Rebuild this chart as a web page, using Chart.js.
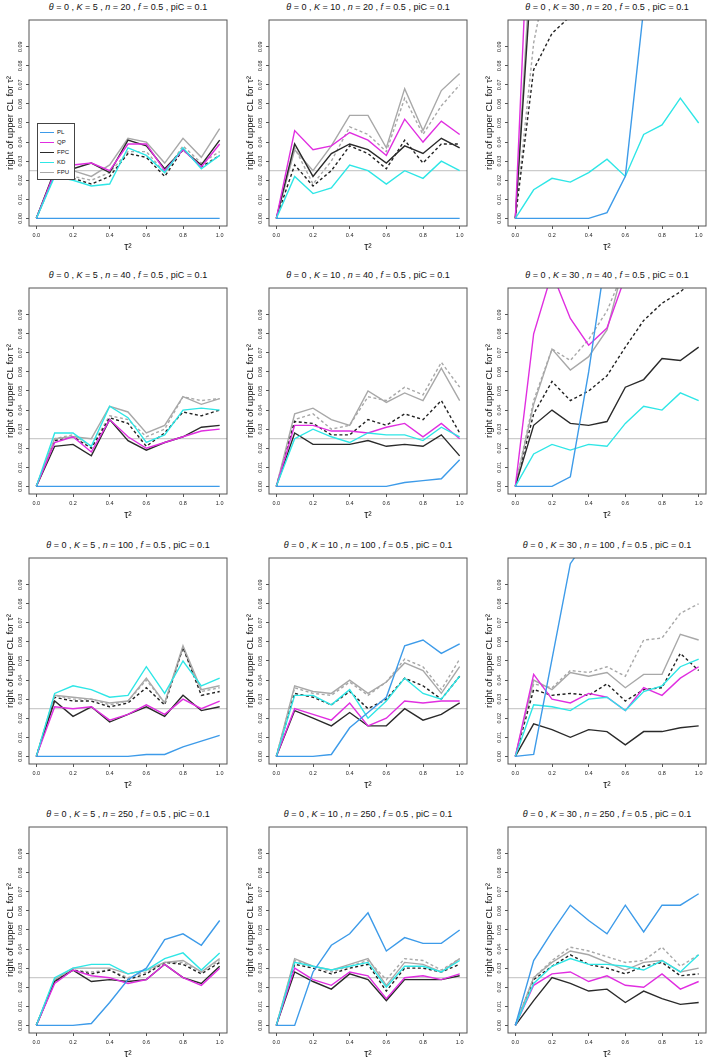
<!DOCTYPE html>
<html>
<head>
<meta charset="utf-8">
<script src="https://cdn.jsdelivr.net/npm/chart.js@4.4.1/dist/chart.umd.min.js"></script>
<style>
  body { margin: 0; background: #fff; width: 709px; height: 1060px; position: relative; overflow: hidden;
         font-family: "Liberation Sans", Arial, sans-serif; color: #111; }
  canvas { position: absolute; }
  .ttl { position: absolute; font-size: 9px; line-height: 12px; text-align: center; white-space: nowrap; }
  .legend { position: absolute; border: 1px solid #444; background: #fff; font-size: 6px; padding: 3px 0 0 2px; box-sizing: border-box; }
  .legend div { height: 10px; line-height: 10px; white-space: nowrap; }
  .legend span { display: inline-block; width: 14px; height: 0; border-top: 1.4px solid; vertical-align: middle; margin-right: 3px; }
</style>
</head>
<body>
<script>
// x values and axis ticks
const tau2 = [0, 0.1, 0.2, 0.3, 0.4, 0.5, 0.6, 0.7, 0.8, 0.9, 1.0];
const xTicks = [0, 0.2, 0.4, 0.6, 0.8, 1.0];
const yTicks = [0, 0.01, 0.02, 0.03, 0.04, 0.05, 0.06, 0.07, 0.08, 0.09];
const xMin = -0.04, xMax = 1.04, yMin = -0.004, yMax = 0.104;
const refLevel = 0.025;

const kValues = [5, 10, 30];
const nValues = [20, 40, 100, 250];
const legendNames = ['PL', 'QP', 'FPC', 'KD', 'FPU'];

// rows in each panel: PL, QP, FPC, KD, FPU, FPC dashed, FPU dashed
const k5_n20 = [
  [0, 0, 0, 0, 0, 0, 0, 0, 0, 0, 0],
  [0, .024, .028, .029, .025, .039, .039, .025, .036, .027, .039],
  [0, .025, .026, .029, .024, .041, .038, .026, .036, .028, .041],
  [0, .022, .020, .017, .018, .037, .033, .024, .037, .026, .033],
  [0, .024, .025, .022, .028, .042, .040, .029, .042, .032, .047],
  [0, .023, .021, .018, .022, .034, .032, .022, .036, .027, .033],
  [0, .024, .022, .020, .024, .035, .035, .024, .038, .029, .035]
];
const k10_n20 = [
  [0, 0, 0, 0, 0, 0, 0, 0, 0, 0, 0],
  [0, .046, .036, .038, .045, .041, .033, .052, .040, .051, .044],
  [0, .039, .022, .034, .039, .036, .029, .038, .034, .042, .037],
  [0, .022, .013, .016, .028, .025, .018, .025, .021, .030, .025],
  [0, .036, .025, .038, .054, .054, .037, .068, .046, .067, .076],
  [0, .028, .017, .025, .038, .034, .026, .041, .029, .039, .039],
  [0, .037, .018, .030, .048, .044, .035, .063, .044, .059, .070]
];
const k30_n20 = [
  [0, 0, 0, 0, 0, .003, .022, .11, .2, .25, .3],
  [0, .22, .28, .30, .31, .30, .32, .30, .31, .33, .32],
  [0, .145, .2, .22, .23, .24, .25, .26, .27, .28, .29],
  [0, .015, .021, .019, .024, .031, .022, .044, .049, .063, .050],
  [0, .16, .22, .24, .25, .26, .27, .28, .29, .30, .31],
  [0, .078, .097, .106, .12, .13, .14, .15, .16, .17, .18],
  [0, .092, .14, .16, .17, .18, .19, .20, .21, .22, .23]
];
const k5_n40 = [
  [0, 0, 0, 0, 0, 0, 0, 0, 0, 0, 0],
  [0, .023, .026, .018, .035, .026, .020, .023, .026, .029, .030],
  [0, .021, .022, .016, .035, .024, .019, .023, .026, .031, .032],
  [0, .028, .028, .021, .042, .036, .023, .027, .040, .041, .040],
  [0, .025, .026, .025, .042, .039, .028, .032, .047, .043, .046],
  [0, .024, .026, .020, .036, .033, .021, .028, .039, .037, .040],
  [0, .025, .027, .021, .037, .035, .026, .030, .047, .045, .046]
];
const k10_n40 = [
  [0, 0, 0, 0, 0, 0, 0, .002, .003, .004, .014],
  [0, .032, .032, .029, .029, .028, .031, .033, .026, .033, .025],
  [0, .028, .022, .022, .022, .024, .021, .022, .021, .027, .016],
  [0, .025, .030, .026, .023, .028, .027, .027, .024, .031, .026],
  [0, .038, .041, .035, .032, .050, .044, .049, .045, .062, .045],
  [0, .034, .033, .027, .027, .035, .032, .038, .035, .045, .028],
  [0, .035, .038, .030, .032, .047, .045, .052, .048, .065, .052]
];
const k30_n40 = [
  [0, 0, 0, .005, .06, .125, .2, .25, .3, .3, .3],
  [0, .080, .112, .088, .074, .083, .11, .13, .14, .15, .16],
  [0, .032, .040, .033, .032, .034, .052, .056, .067, .066, .073],
  [0, .017, .022, .019, .022, .021, .033, .042, .040, .049, .045],
  [0, .043, .072, .061, .068, .082, .119, .14, .15, .16, .17],
  [0, .038, .055, .045, .050, .058, .073, .087, .096, .102, .11],
  [0, .045, .072, .066, .077, .092, .115, .13, .14, .15, .16]
];
const k5_n100 = [
  [0, 0, 0, 0, 0, 0, .001, .001, .005, .008, .011],
  [0, .026, .025, .026, .019, .022, .027, .022, .030, .025, .029],
  [0, .029, .021, .026, .018, .022, .026, .021, .032, .024, .026],
  [0, .033, .037, .035, .031, .032, .047, .033, .050, .037, .041],
  [0, .032, .031, .030, .028, .029, .041, .028, .058, .035, .037],
  [0, .031, .029, .029, .026, .028, .036, .027, .057, .032, .034],
  [0, .032, .030, .030, .027, .029, .040, .028, .057, .034, .036]
];
const k10_n100 = [
  [0, 0, 0, .001, .015, .023, .031, .058, .061, .054, .059],
  [0, .025, .022, .019, .028, .016, .020, .029, .028, .029, .029],
  [0, .024, .020, .016, .023, .016, .016, .025, .019, .022, .028],
  [0, .032, .032, .027, .035, .020, .029, .041, .033, .030, .042],
  [0, .037, .034, .033, .040, .033, .039, .049, .045, .033, .047],
  [0, .033, .031, .027, .034, .025, .030, .041, .037, .030, .042],
  [0, .036, .033, .032, .039, .032, .039, .051, .047, .035, .051]
];
const k30_n100 = [
  [0, .001, .051, .101, .115, .2, .25, .3, .3, .3, .3],
  [0, .043, .030, .028, .033, .031, .024, .036, .032, .041, .047],
  [0, .017, .014, .010, .014, .013, .006, .013, .013, .015, .016],
  [0, .027, .026, .024, .030, .031, .024, .034, .037, .047, .051],
  [0, .040, .035, .044, .042, .044, .036, .043, .043, .064, .061],
  [0, .035, .032, .033, .032, .038, .029, .035, .036, .054, .045],
  [0, .038, .036, .045, .044, .047, .042, .061, .062, .075, .080]
];
const k5_n250 = [
  [0, 0, 0, .001, .012, .024, .030, .045, .048, .042, .055],
  [0, .022, .029, .026, .025, .022, .024, .032, .025, .021, .030],
  [0, .023, .029, .023, .024, .023, .024, .032, .025, .022, .031],
  [0, .025, .030, .032, .032, .027, .029, .035, .038, .029, .038],
  [0, .024, .030, .030, .030, .027, .029, .033, .034, .028, .035],
  [0, .023, .029, .027, .029, .024, .027, .033, .032, .027, .033],
  [0, .024, .029, .028, .029, .025, .028, .033, .033, .028, .034]
];
const k10_n250 = [
  [0, 0, .028, .042, .048, .059, .039, .046, .043, .043, .050],
  [0, .030, .024, .021, .028, .026, .014, .025, .026, .024, .027],
  [0, .028, .023, .019, .027, .024, .013, .024, .024, .024, .026],
  [0, .033, .031, .029, .031, .033, .020, .031, .031, .028, .034],
  [0, .035, .031, .029, .032, .035, .021, .033, .032, .028, .035],
  [0, .032, .030, .027, .030, .032, .018, .030, .030, .028, .032],
  [0, .034, .031, .028, .031, .034, .024, .035, .034, .029, .035]
];
const k30_n250 = [
  [0, .034, .049, .063, .055, .048, .063, .049, .063, .063, .069],
  [0, .021, .027, .028, .023, .026, .021, .020, .027, .019, .023],
  [0, .013, .025, .022, .018, .019, .012, .018, .014, .011, .012],
  [0, .022, .031, .035, .032, .032, .031, .029, .034, .028, .037],
  [0, .025, .033, .039, .037, .033, .029, .033, .034, .028, .030],
  [0, .024, .031, .037, .032, .030, .027, .031, .033, .026, .027],
  [0, .025, .034, .041, .039, .036, .033, .034, .041, .031, .037]
];

const panels = [
  [k5_n20, k10_n20, k30_n20],
  [k5_n40, k10_n40, k30_n40],
  [k5_n100, k10_n100, k30_n100],
  [k5_n250, k10_n250, k30_n250]
];

const styles = [
  { label: 'PL',  color: '#3d9be9', dash: [] },
  { label: 'QP',  color: '#e02ee0', dash: [] },
  { label: 'FPC', color: '#2a2a2a', dash: [] },
  { label: 'KD',  color: '#2ee6e6', dash: [] },
  { label: 'FPU', color: '#a8a8a8', dash: [] },
  { label: 'FPC dashed', color: '#222222', dash: [3, 2.5] },
  { label: 'FPU dashed', color: '#a8a8a8', dash: [3, 2.5] }
];
// drawing order, lower = on top
const drawOrder = [0, 2, 3, 1, 4, 5, 6];

const colBoxLeft = [29, 269, 508];
const rowBoxTop = [20, 288, 558, 827];
const boxW = 198, boxH = 206, axisW = 29, axisH = 32, padTop = 2, padRight = 3;

const frame = {
  id: 'frame',
  afterDraw(chart) {
    const { ctx, chartArea: a, scales: { y } } = chart;
    ctx.save();
    ctx.strokeStyle = '#555';
    ctx.lineWidth = 1;
    ctx.strokeRect(a.left, a.top, a.right - a.left, a.bottom - a.top);
    ctx.fillStyle = '#222';
    ctx.font = '5.5px "Liberation Sans", Arial, sans-serif';
    ctx.textAlign = 'center';
    ctx.textBaseline = 'middle';
    y.ticks.forEach(t => {
      ctx.save();
      ctx.translate(a.left - 8.5, y.getPixelForValue(t.value));
      ctx.rotate(-Math.PI / 2);
      ctx.fillText(t.value.toFixed(2), 0, 0);
      ctx.restore();
    });
    ctx.restore();
  }
};

function makePanel(r, c) {
  const rows = panels[r][c];
  const left = colBoxLeft[c], top = rowBoxTop[r];

  const t = document.createElement('div');
  t.className = 'ttl';
  t.style.left = left + 'px';
  t.style.width = boxW + 'px';
  t.style.top = (top - 19) + 'px';
  t.innerHTML = '<i>θ</i> = 0 , <i>K</i> = ' + kValues[c] + ' , <i>n</i> = ' + nValues[r] +
                ' , <i>f</i> = 0.5 , piC = 0.1';
  document.body.appendChild(t);

  const cv = document.createElement('canvas');
  const w = axisW + boxW + padRight, h = padTop + boxH + axisH;
  cv.width = w; cv.height = h;
  cv.style.width = w + 'px'; cv.style.height = h + 'px';
  cv.style.left = (left - axisW) + 'px';
  cv.style.top = (top - padTop) + 'px';
  document.body.appendChild(cv);

  const datasets = rows.map((vals, i) => ({
    label: styles[i].label,
    data: tau2.map((x, j) => ({ x: x, y: vals[j] })),
    borderColor: styles[i].color,
    borderDash: styles[i].dash,
    borderWidth: 1.4,
    pointRadius: 0,
    tension: 0,
    order: drawOrder[i]
  }));
  datasets.push({
    label: 'ref',
    data: [{ x: xMin, y: refLevel }, { x: xMax, y: refLevel }],
    borderColor: '#cccccc',
    borderWidth: 1.2,
    pointRadius: 0,
    order: 100
  });

  new Chart(cv, {
    type: 'line',
    data: { datasets },
    plugins: [frame],
    options: {
      responsive: false,
      animation: false,
      layout: { padding: { top: padTop, right: padRight, left: 0, bottom: 0 } },
      plugins: { legend: { display: false }, tooltip: { enabled: false } },
      scales: {
        x: {
          type: 'linear', min: xMin, max: xMax,
          afterBuildTicks: s => { s.ticks = xTicks.map(v => ({ value: v })); },
          afterFit: s => { s.height = axisH; },
          ticks: { font: { size: 5.5, family: '"Liberation Sans", Arial' }, color: '#222', padding: 3,
                   maxRotation: 0, autoSkip: false, callback: v => v.toFixed(1) },
          grid: { drawOnChartArea: false, tickLength: 3, color: '#555' },
          border: { display: false },
          title: { display: true, text: 'τ²', color: '#111',
                   font: { size: 10, family: '"Liberation Sans", Arial' }, padding: { top: 0, bottom: 5 } }
        },
        y: {
          type: 'linear', min: yMin, max: yMax,
          afterBuildTicks: s => { s.ticks = yTicks.map(v => ({ value: v })); },
          afterFit: s => { s.width = axisW; },
          ticks: { display: false },
          grid: { drawOnChartArea: false, tickLength: 3, color: '#555' },
          border: { display: false },
          title: { display: true, text: 'right of upper CL for τ²', color: '#111',
                   font: { size: 9.5, family: '"Liberation Sans", Arial' }, padding: { top: 5, bottom: 0 } }
        }
      }
    }
  });
}

for (let r = 0; r < 4; r++) for (let c = 0; c < 3; c++) makePanel(r, c);

// legend in the first panel
const lg = document.createElement('div');
lg.className = 'legend';
lg.style.left = '37px'; lg.style.top = '123px';
lg.style.width = '38px'; lg.style.height = '57px';
lg.innerHTML = legendNames.map((n, i) =>
  '<div><span style="border-color:' + styles[i].color + '"></span>' + n + '</div>').join('');
document.body.appendChild(lg);
</script>
</body>
</html>
